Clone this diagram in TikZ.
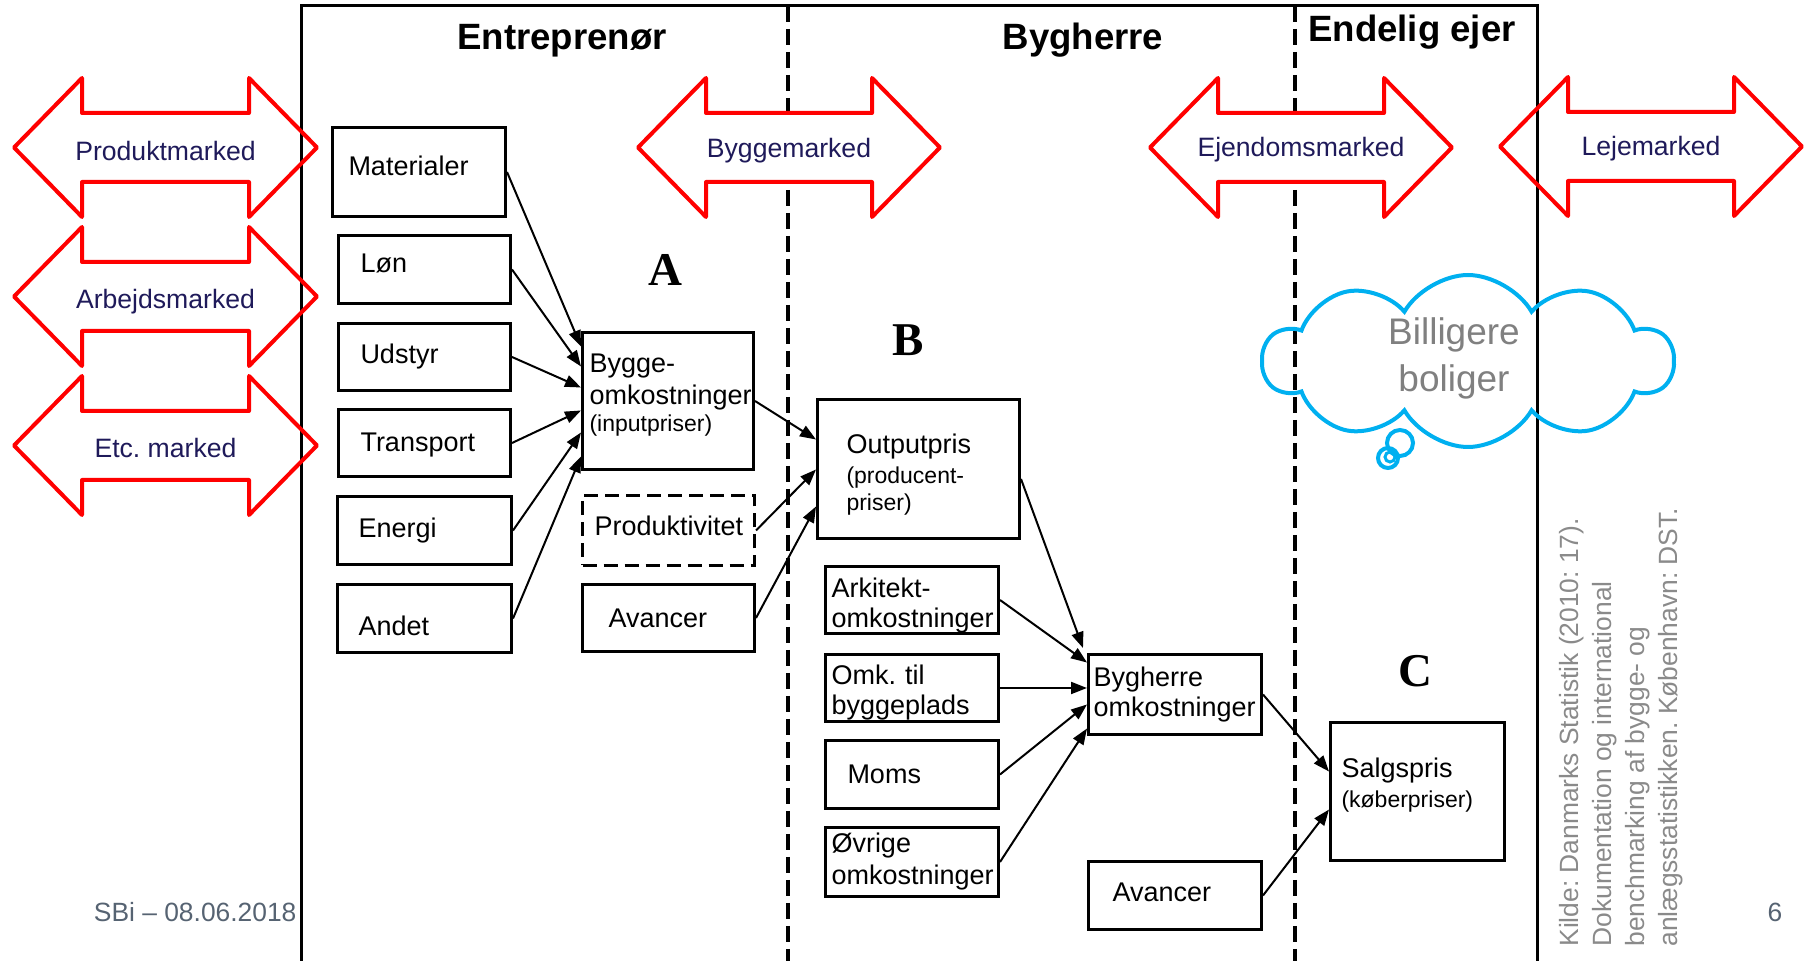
\documentclass[tikz,border=0pt]{standalone}
\usepackage{fontspec}
\setmainfont{Liberation Sans}
\newfontfamily\abcfont{Liberation Serif}
\usetikzlibrary{arrows.meta,calc,shapes.symbols}
\definecolor{mred}{HTML}{FF0000}
\definecolor{mnavy}{HTML}{1F1A5A}
\definecolor{mcyan}{HTML}{00B0F0}
\definecolor{cgray}{HTML}{808080}
\definecolor{rgray}{HTML}{8A8A8A}
\definecolor{fgray}{HTML}{566372}
\frenchspacing
\newcommand\fsbox{\fontsize{13.5pt}{15pt}\selectfont}
\newcommand\fssmall{\fontsize{11.5pt}{13pt}\selectfont}
\newcommand\fsmk{\fontsize{13.3pt}{15pt}\selectfont}
\newcommand\fshead{\fontsize{18.3pt}{20pt}\selectfont\bfseries}
\newcommand\fsabc{\abcfont\fontsize{23.5pt}{25pt}\selectfont\bfseries}
\newcommand\fscloud{\fontsize{18.5pt}{23.5pt}\selectfont}
\newcommand\fsfoot{\fontsize{13.2pt}{15pt}\selectfont}
\newcommand\fsrot{\fontsize{13.2pt}{16.5pt}\selectfont}
\newcommand\shiftpar[3]{\raisebox{#1}[\height][\depth]{\parbox[c]{#2}{\raggedright #3}}}
\newcommand\shtxt[2]{\raisebox{#1}[\height][\depth]{#2}}
\newcommand\arrshape[4]{\path[#1] (#2,#4) -- (#2+68,#4-69.5) -- (#2+68,#4-34.5) -- (#3-68,#4-34.5) -- (#3-68,#4-69.5) -- (#3,#4) -- (#3-68,#4+69.5) -- (#3-68,#4+34.5) -- (#2+68,#4+34.5) -- (#2+68,#4+69.5) -- cycle;}
\begin{document}
\begin{tikzpicture}[x=0.5pt,y=-0.5pt,
  bx/.style={draw, line width=1.5pt, anchor=north west, align=left, inner ysep=1pt, font=\fsbox},
  conn/.style={line width=1pt, -{Triangle[length=8pt,width=6pt]}},
  mk/.style={text=mnavy, font=\fsmk, inner sep=0pt, anchor=base},
  sep/.style={line width=2pt, dash pattern=on 8pt off 3.5pt},
  redout/.style={draw=mred, line width=2pt, line join=round}]
\useasboundingbox (0,0) rectangle (1806,961);
% dashed separators
\draw[sep] (788,6) -- (788,961);
\draw[sep] (1295,6) -- (1295,961);
% white fills of market arrows
\arrshape{fill=white}{14}{317}{147.5}
\arrshape{fill=white}{14}{317}{296.5}
\arrshape{fill=white}{14}{317}{445.5}
\arrshape{fill=white}{638}{940}{147.5}
\arrshape{fill=white}{1150}{1452}{147.5}
\arrshape{fill=white}{1500}{1802}{146.5}
% frame
\draw[line width=1.5pt] (301,961) -- (301,6) -- (1537,6) -- (1537,961);
% red outlines
\arrshape{redout}{14}{317}{147.5}
\arrshape{redout}{14}{317}{296.5}
\arrshape{redout}{14}{317}{445.5}
\arrshape{redout}{638}{940}{147.5}
\arrshape{redout}{1150}{1452}{147.5}
\arrshape{redout}{1500}{1802}{146.5}
% market labels
\node[mk] (MP) at (165.5,160.5) {Produktmarked};
\node[mk] (MA) at (165.5,309) {Arbejdsmarked};
\node[mk] (ME) at (165.5,458) {Etc. marked};
\node[mk] (MB) at (789,158) {Byggemarked};
\node[mk] (MEj) at (1301,157) {Ejendomsmarked};
\node[mk] (ML) at (1651,156) {Lejemarked};
% headers
\node[font=\fshead, anchor=base, inner sep=0pt] (HE) at (562,50) {Entreprenør};
\node[font=\fshead, anchor=base, inner sep=0pt] (HB) at (1083,50) {Bygherre};
\node[font=\fshead, anchor=base, inner sep=0pt] (HJ) at (1412,42) {Endelig ejer};
% letters
\node[font=\fsabc, anchor=base, inner sep=0pt] (LA) at (665,286) {A};
\node[font=\fsabc, anchor=base, inner sep=0pt] (LB) at (908,356) {B};
\node[font=\fsabc, anchor=base, inner sep=0pt] (LC) at (1415,687) {C};
% boxes column 1
\node[bx, minimum height=44.5pt, inner xsep=8pt, text width=70.5pt] (Mat) at (331,126) {\shtxt{3pt}{Materialer}};
\node[bx, minimum height=34pt, inner xsep=11pt, text width=64pt] (Lon) at (337,234) {\shtxt{2.8pt}{Løn}};
\node[bx, minimum height=33.5pt, inner xsep=11pt, text width=64pt] (Uds) at (337,322) {Udstyr};
\node[bx, minimum height=33.5pt, inner xsep=11pt, text width=64pt] (Tra) at (337,408) {\shtxt{-1pt}{Transport}};
\node[bx, minimum height=34pt, inner xsep=10.5pt, text width=66pt] (Ene) at (336,495) {Energi};
\node[bx, minimum height=34pt, inner xsep=10.5pt, text width=66pt] (And) at (336,583) {\shtxt{-3.5pt}{Andet}};
% column 2
\node[bx, minimum height=68.5pt, inner xsep=3.5pt, text width=78.5pt] (Byg) at (581,331) {\shiftpar{3pt}{78.5pt}{Bygge-\\[1pt]omkostninger\\[-1.5pt]{\fssmall (inputpriser)}}};
\node[bx, dash pattern=on 7pt off 3.5pt, minimum height=35pt, inner xsep=6pt, text width=74pt] (Pro) at (581,494) {\shtxt{2.2pt}{Produktivitet}};
\node[bx, minimum height=33.5pt, inner xsep=13pt, text width=60pt] (AvA) at (581,583) {Avancer};
% column 3
\node[bx, minimum height=69.5pt, inner xsep=14.5pt, text width=72pt] (Out) at (816,398) {\shiftpar{-3pt}{72pt}{Outputpris\\{\fssmall (producent-}\\[-1.5pt]{\fssmall priser)}}};
\node[bx, minimum height=33.5pt, inner xsep=3pt, text width=80.5pt] (Ark) at (824,565) {\shiftpar{-2.8pt}{80.5pt}{Arkitekt-\\omkostninger}};
\node[bx, minimum height=33.5pt, inner xsep=3pt, text width=80.5pt] (Omk) at (824,653) {\shiftpar{-2.2pt}{80.5pt}{Omk. til\\byggeplads}};
\node[bx, minimum height=34pt, inner xsep=11pt, text width=64.5pt] (Mom) at (824,739) {Moms};
\node[bx, minimum height=34.5pt, inner xsep=3pt, text width=80.5pt] (Ovr) at (824,826) {Øvrige\\[1pt]omkostninger};
% column 4
\node[bx, minimum height=40pt, inner xsep=2.5pt, text width=81.5pt] (Bhe) at (1087,653) {Bygherre\\omkostninger};
\node[bx, minimum height=34pt, inner xsep=12pt, text width=62.5pt] (AvC) at (1087,860) {\shtxt{1.7pt}{Avancer}};
% column 5
\node[bx, minimum height=69pt, inner xsep=5.5pt, text width=76pt] (Sal) at (1329,721) {\shiftpar{3pt}{76pt}{Salgspris\\{\fssmall (køberpriser)}}};
% connectors
\draw[conn] (Mat.east) -- ($(Byg.west)+(0,-54.5)$);
\draw[conn] (Lon.east) -- ($(Byg.west)+(0,-34.5)$);
\draw[conn] (Uds.east) -- ($(Byg.west)+(0,-13.5)$);
\draw[conn] (Tra.east) -- ($(Byg.west)+(0,9.5)$);
\draw[conn] (Ene.east) -- ($(Byg.west)+(0,31.5)$);
\draw[conn] (And.east) -- ($(Byg.west)+(0,55.5)$);
\draw[conn] (Byg.east) -- ($(Out.west)+(0,-29.5)$);
\draw[conn] (Pro.east) -- ($(Out.west)+(0,0.5)$);
\draw[conn] (AvA.east) -- ($(Out.west)+(0,37.5)$);
\draw[conn] ($(Out.east)+(0,10)$) -- ($(Bhe.north west)+(-4,-5)$);
\draw[conn] (Ark.east) -- ($(Bhe.west)+(0,-32)$);
\draw[conn] (Omk.east) -- (Omk.east -| Bhe.west);
\draw[conn] (Mom.east) -- ($(Bhe.west)+(0,10)$);
\draw[conn] (Ovr.east) -- ($(Bhe.west)+(0,34)$);
\draw[conn] (Bhe.east) -- ($(Sal.west)+(0,-20)$);
\draw[conn] (AvC.east) -- ($(Sal.west)+(0,18)$);
% cloud
\node[cloud, draw=mcyan, line width=2pt, cloud puffs=10, cloud puff arc=120, aspect=2.4, minimum width=205pt, minimum height=86pt] (Cl) at (1468,361) {};
\node[font=\fscloud, text=cgray, align=center] (ClT) at (1454,358) {Billigere\\boliger};
\draw[mcyan, line width=2pt] (1400,443) circle[radius=6.5pt];
\draw[mcyan, line width=2pt] (1388,458) circle[radius=5pt];
\draw[mcyan, line width=1.5pt] (1390,457) circle[radius=2.5pt];
% source text
\node[rotate=90, anchor=north west, align=left, inner sep=0pt, text=rgray, font=\fsrot] (Src) at (1559,947) {Kilde: Danmarks Statistik (2010: 17).\\Dokumentation og international\\benchmarking af bygge- og\\anlægsstatistikken. København: DST.};
% footer
\node[font=\fsfoot, text=fgray, anchor=base west, inner sep=0pt] (Foot) at (93.5,922) {SBi – 08.06.2018};
\node[font=\fsfoot, text=fgray, anchor=base, inner sep=0pt] (Pg) at (1775,922) {6};
\end{tikzpicture}
\end{document}
